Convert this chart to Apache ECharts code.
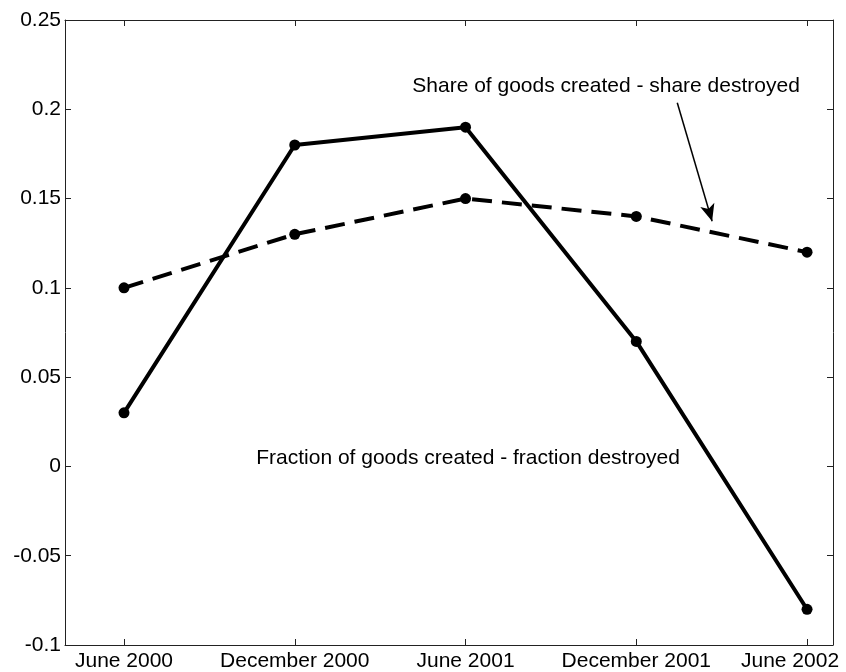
<!DOCTYPE html>
<html>
<head>
<meta charset="utf-8">
<script src="https://cdn.jsdelivr.net/npm/echarts@6/dist/echarts.min.js"></script>
<style>html,body{margin:0;padding:0;background:#fff}#c{width:846px;height:672px}</style>
</head>
<body>
<div id="c"></div>
<script>
const categories = ['June 2000', 'December 2000', 'June 2001', 'December 2001', 'June 2002'];
const fractionNet = [0.03, 0.18, 0.19, 0.07, -0.08];
const shareNet = [0.10, 0.13, 0.15, 0.14, 0.12];
const yTicks = [-0.1, -0.05, 0, 0.05, 0.1, 0.15, 0.2, 0.25];
const shareLabel = 'Share of goods created - share destroyed';
const fractionLabel = 'Fraction of goods created - fraction destroyed';

const idx = categories.map((_, i) => i);
const font = '"Liberation Sans", Arial, Helvetica, sans-serif';
const fs = 21;
const chart = echarts.init(document.getElementById('c'));

const xBase = {
  type: 'value', min: -0.3455, max: 4.152,
  splitLine: { show: false },
  axisLine: { show: true, onZero: false, lineStyle: { color: '#222', width: 1 } },
  axisTick: { show: true, inside: true, length: 6, customValues: idx, lineStyle: { color: '#222' } }
};
const yBase = {
  type: 'value', min: -0.1, max: 0.25, interval: 0.05,
  splitLine: { show: false },
  axisLine: { show: true, onZero: false, lineStyle: { color: '#222', width: 1 } },
  axisTick: { show: true, inside: true, length: 6, lineStyle: { color: '#222' } }
};

chart.setOption({
  animation: false,
  backgroundColor: '#fff',
  textStyle: { fontFamily: font },
  grid: { left: 65, top: 20, right: 13, bottom: 25, containLabel: false },
  xAxis: [
    Object.assign({}, xBase, {
      position: 'bottom',
      axisLabel: {
        show: true, customValues: idx, margin: 6, color: '#000', fontSize: fs, fontFamily: font,
        formatter: v => {
          const i = Math.round(v);
          return i === categories.length - 1 ? '{r|' + categories[i] + '}' : categories[i];
        },
        rich: { r: { fontSize: fs, fontFamily: font, color: '#000', padding: [0, 34, 0, 0] } }
      }
    }),
    Object.assign({}, xBase, { position: 'top', axisLabel: { show: false } })
  ],
  yAxis: [
    Object.assign({}, yBase, {
      position: 'left',
      axisLabel: {
        show: true, margin: 4, color: '#000', fontSize: fs, fontFamily: font,
        formatter: v => String(+v.toFixed(2))
      }
    }),
    Object.assign({}, yBase, { position: 'right', axisLabel: { show: false } })
  ],
  series: [
    {
      name: 'fraction', type: 'line',
      data: idx.map(i => [i, fractionNet[i]]),
      symbol: 'circle', symbolSize: 11,
      itemStyle: { color: '#000' },
      lineStyle: { color: '#000', width: 4, type: 'solid' },
      markPoint: {
        symbol: 'circle', symbolSize: 0,
        label: { show: true, position: 'inside', color: '#000', fontSize: fs, fontFamily: font, formatter: p => p.name },
        data: [{ name: fractionLabel, coord: [2.015, 0.0045] }]
      }
    },
    {
      name: 'share', type: 'line',
      data: idx.map(i => [i, shareNet[i]]),
      symbol: 'circle', symbolSize: 11,
      itemStyle: { color: '#000' },
      lineStyle: { color: '#000', width: 4, type: [20, 10] },
      markPoint: {
        symbol: 'circle', symbolSize: 0,
        label: { show: true, position: 'inside', color: '#000', fontSize: fs, fontFamily: font, formatter: p => p.name },
        data: [{ name: shareLabel, coord: [2.823, 0.2132] }]
      },
      markLine: {
        silent: true,
        symbol: ['none', 'arrow'], symbolSize: [11, 17],
        label: { show: false },
        lineStyle: { color: '#000', width: 1.5, type: 'solid' },
        data: [[{ coord: [3.24, 0.2037] }, { coord: [3.444, 0.1373] }]]
      }
    }
  ]
});
</script>
</body>
</html>
